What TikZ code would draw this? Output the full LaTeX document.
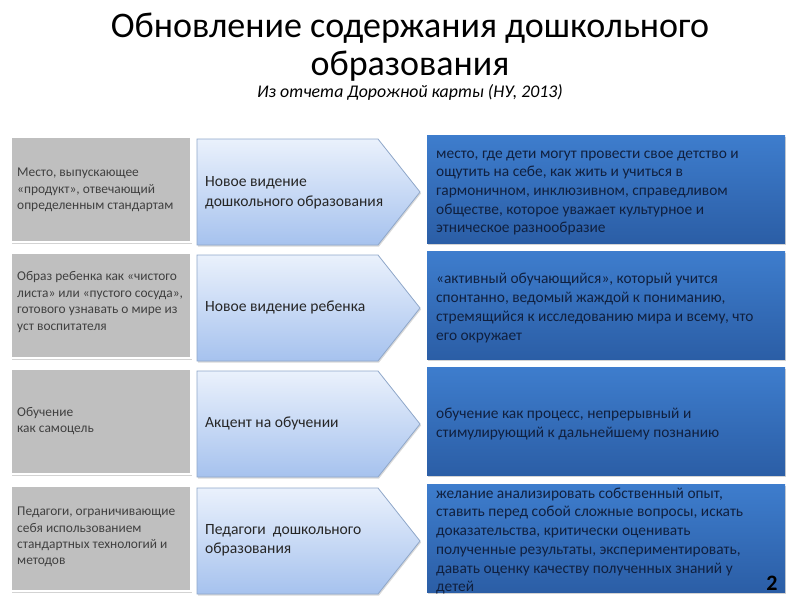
\documentclass[tikz,border=0pt]{standalone}
\usepackage{fontspec}
\setmainfont{Carlito}
\usetikzlibrary{shadows}
\definecolor{grayfill}{HTML}{BFBFBF}
\definecolor{graytext}{HTML}{404040}
\definecolor{arrtop}{HTML}{EAF1FC}
\definecolor{arrbot}{HTML}{A6C2EE}
\definecolor{arrline}{HTML}{8FA7C9}
\definecolor{bluetop}{HTML}{3E7DCD}
\definecolor{bluebot}{HTML}{2B5EA6}
\definecolor{bluetext}{HTML}{10203F}
\tikzset{
  graybox/.style={draw=white, line width=1.5pt, fill=grayfill,
    drop shadow={opacity=0.35, shadow xshift=1pt, shadow yshift=-1.5pt}},
  arrowbox/.style={draw=arrline, line width=0.8pt, top color=arrtop, bottom color=arrbot,
    drop shadow={opacity=0.3, shadow xshift=1pt, shadow yshift=-1.5pt}},
  bluebox/.style={draw=none, top color=bluetop, bottom color=bluebot,
    drop shadow={opacity=0.35, shadow xshift=1pt, shadow yshift=-1.5pt}},
  graylbl/.style={anchor=west, align=left, inner sep=0pt, text=graytext,
    font=\fontsize{13.4}{16.4}\selectfont},
  arrlbl/.style={anchor=west, align=left, inner sep=0pt, text=black!85,
    font=\fontsize{15.6}{19.5}\selectfont},
  bluelbl/.style={anchor=west, align=left, inner sep=0pt, text=bluetext,
    font=\fontsize{15.4}{18.7}\selectfont},
}
\begin{document}
\begin{tikzpicture}[x=1pt, y=-1pt]
\useasboundingbox (0,0) rectangle (800,600);
% title
\node[font=\fontsize{36}{37}\selectfont, anchor=base] (title1) at (410,37) {Обновление содержания дошкольного};
\node[font=\fontsize{36}{37}\selectfont, anchor=base] (title2) at (410,75) {образования};
\node[font=\fontsize{17.8}{20}\selectfont\itshape, anchor=base] (sub) at (410,97) {Из отчета Дорожной карты (НУ, 2013)};

% rows: top values 137, 253, 369, 486
\foreach \t/\n in {137/1, 253/2, 369/3, 486/4}{
  \path[graybox] (11,\t) rectangle (191,\t+105);
  \path[arrowbox] (197,\t+2) -- (378,\t+2) -- (420,\t+55) -- (378,\t+108) -- (197,\t+108) -- cycle;
  \path[bluebox] (427,\t-2) rectangle (785,\t+106);
}

% row 1
\node[graylbl] (g1) at (17,190) {Место, выпускающее\\«продукт», отвечающий\\определенным стандартам};
\node[arrlbl] (a1) at (205,193) {Новое видение\\дошкольного образования};
\node[bluelbl] (b1) at (436,193) {место, где дети могут провести свое детство и\\ощутить на себе, как жить и учиться в\\гармоничном, инклюзивном, справедливом\\обществе, которое уважает культурное и\\этническое разнообразие};
% row 2
\node[graylbl] (g2) at (17,302) {Образ ребенка как «чистого\\листа» или «пустого сосуда»,\\готового узнавать о мире из\\уст воспитателя};
\node[arrlbl] (a2) at (205,307) {Новое видение ребенка};
\node[bluelbl] (b2) at (436,308) {«активный обучающийся», который учится\\спонтанно, ведомый жаждой к пониманию,\\стремящийся к исследованию мира и всему, что\\его окружает};
% row 3
\node[graylbl] (g3) at (17,421) {Обучение\\как самоцель};
\node[arrlbl] (a3) at (205,423) {Акцент на обучении};
\node[bluelbl] (b3) at (436,424) {обучение как процесс, непрерывный и\\стимулирующий к дальнейшему познанию};
% row 4
\node[graylbl] (g4) at (17,537) {Педагоги, ограничивающие\\себя использованием\\стандартных технологий и\\методов};
\node[arrlbl] (a4) at (205,540) {Педагоги\ \ дошкольного\\образования};
\node[bluelbl] (b4) at (436,541) {желание анализировать собственный опыт,\\ставить перед собой сложные вопросы, искать\\доказательства, критически оценивать\\полученные результаты, экспериментировать,\\давать оценку качеству полученных знаний у\\детей};

\node[font=\fontsize{22}{22}\selectfont\bfseries, anchor=base] (pg) at (772,590) {2};
\end{tikzpicture}
\end{document}
